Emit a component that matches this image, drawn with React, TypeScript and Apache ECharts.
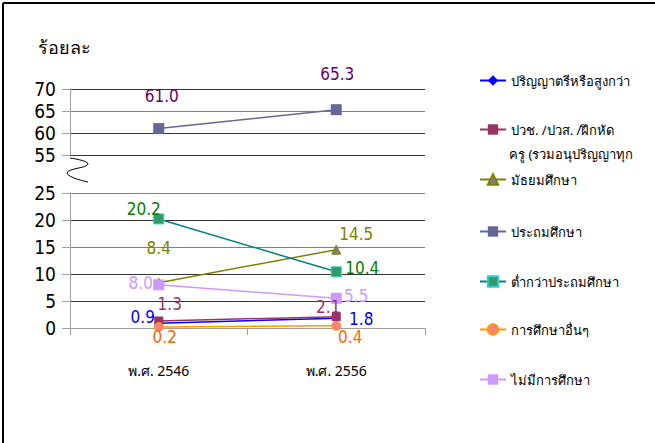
import React, { useEffect, useRef } from "react";
import * as echarts from "echarts";

const categories = ["พ.ศ. 2546", "พ.ศ. 2556"];
const bachelor = [0.9, 1.8];
const vocational = [1.3, 2.1];
const secondary = [8.4, 14.5];
const primary = [61.0, 65.3];
const belowPrimary = [20.2, 10.4];
const otherEdu = [0.2, 0.4];
const noEdu = [8.0, 5.5];
const topTicks = [55, 70];
const bottomTicks = [0, 25];

const NUM_FONT = "'Liberation Sans Narrow', 'DejaVu Sans Condensed', 'Liberation Sans', sans-serif";
const THAI_FONT = "Tahoma, 'Noto Sans', 'DejaVu Sans', sans-serif";

export default function App() {
  const ref = useRef<HTMLDivElement>(null);
  useEffect(() => {
    if (!ref.current) return;
    const chart = echarts.init(ref.current, null, { renderer: "svg" });

    const mkData = (vals: number[], offs: number[][], color: string) =>
      vals.map((v, i) => ({
        value: v,
        label: {
          show: true,
          position: "inside",
          offset: offs[i],
          color,
          fontSize: 17,
          fontFamily: NUM_FONT,
          formatter: (p: any) => Number(p.value).toFixed(1),
        },
      }));

    const mkSeries = (
      name: string,
      vals: number[],
      idx: number,
      lineColor: string,
      symbol: string,
      symbolColor: string,
      labelColor: string,
      offs: number[][],
      symbolSize = 10,
      borderColor?: string
    ) => ({
      type: "line",
      name,
      xAxisIndex: idx,
      yAxisIndex: idx,
      data: mkData(vals, offs, labelColor),
      symbol,
      symbolSize,
      lineStyle: { color: lineColor, width: 1.5 },
      itemStyle: {
        color: symbolColor,
        borderColor: borderColor || symbolColor,
        borderWidth: borderColor ? 1 : 0,
      },
      z: 5,
    });

    const names = [
      "ปริญญาตรีหรือสูงกว่า",
      "ปวช. /ปวส. /ฝึกหัดครู (รวมอนุปริญญาทุกสาขา)",
      "มัธยมศึกษา",
      "ประถมศึกษา",
      "ต่ำกว่าประถมศึกษา",
      "การศึกษาอื่นๆ",
      "ไม่มีการศึกษา",
    ];
    const legendY = [81, 130, 180, 232, 282, 330, 380];

    const legends = names.map((n, i) => ({
      data: [n],
      left: 479,
      top: legendY[i] - 7,
      padding: 0,
      itemWidth: 26,
      itemHeight: 13,
      itemGap: 0,
      formatter: i === 1 ? "ปวช. /ปวส. /ฝึกหัด" : "{name}",
      textStyle: { fontSize: 13, color: "#000", fontFamily: THAI_FONT, padding: [0, 0, 0, 0] },
      selectedMode: false,
    }));

    const axisGrey = "#a0a0a0";

    chart.setOption({
      animation: false,
      backgroundColor: "#fff",
      legend: legends,
      grid: [
        { left: 70, top: 89, width: 355, height: 66 },
        { left: 70, top: 193, width: 355, height: 135 },
      ],
      xAxis: [
        {
          type: "category",
          gridIndex: 0,
          data: categories,
          axisLine: { show: false },
          axisTick: { show: false },
          axisLabel: { show: false },
        },
        {
          type: "category",
          gridIndex: 1,
          data: categories,
          axisLine: { show: true, lineStyle: { color: axisGrey, width: 1 } },
          axisTick: { show: true, length: 7, lineStyle: { color: axisGrey } },
          axisLabel: { color: "#000", fontSize: 14, fontFamily: THAI_FONT, margin: 35 },
        },
      ],
      yAxis: [
        {
          type: "value",
          gridIndex: 0,
          min: topTicks[0],
          max: topTicks[1],
          interval: 5,
          axisLine: { show: true, lineStyle: { color: axisGrey } },
          axisTick: { show: true, length: 8, lineStyle: { color: axisGrey } },
          axisLabel: { color: "#000", fontSize: 19, fontFamily: NUM_FONT, margin: 14 },
          splitLine: { show: true, lineStyle: { color: ["#333", "#333", "#808080", "#333"], width: 1.2 } },
        },
        {
          type: "value",
          gridIndex: 1,
          min: bottomTicks[0],
          max: bottomTicks[1],
          interval: 5,
          axisLine: { show: true, lineStyle: { color: axisGrey } },
          axisTick: { show: true, length: 8, lineStyle: { color: axisGrey } },
          axisLabel: { color: "#000", fontSize: 19, fontFamily: NUM_FONT, margin: 14 },
          splitLine: {
            show: true,
            lineStyle: { color: [axisGrey, "#333", "#333", "#808080", "#333", "#808080"], width: 1.2 },
          },
        },
      ],
      series: [
        mkSeries(names[0], bachelor, 1, "#0000FF", "diamond", "#0000FF", "#0000FF", [[-16, -6], [25, 1]], 9),
        mkSeries(names[1], vocational, 1, "#993366", "rect", "#993366", "#993366", [[11, -17], [-8, -10]], 9),
        mkSeries(names[2], secondary, 1, "#808000", "triangle", "#808080", "#808000", [[0, -35], [20, -16]], 9, "#808000"),
        mkSeries(names[3], primary, 0, "#666699", "rect", "#666699", "#660066", [[3, -33], [1, -36]], 11),
        mkSeries(names[4], belowPrimary, 1, "#008080", "rect", "#339966", "#008000", [[-15, -10], [26, -4]], 10, "#33CCCC"),
        mkSeries(names[5], otherEdu, 1, "#FF9900", "circle", "#FF8080", "#FF6600", [[6, 10], [14, 11]], 9, "#FF9900"),
        mkSeries(names[6], noEdu, 1, "#CC99FF", "rect", "#CC99FF", "#CC99FF", [[-18, -2], [20, -2]], 11),
      ],
      graphic: [
        {
          type: "line",
          shape: { x1: 3, y1: 3, x2: 655, y2: 3 },
          style: { stroke: "#000", lineWidth: 2 },
        },
        {
          type: "line",
          shape: { x1: 3, y1: 3, x2: 3, y2: 443 },
          style: { stroke: "#000", lineWidth: 2 },
        },
        {
          type: "text",
          left: 38,
          top: 38,
          style: { text: "ร้อยละ", fontSize: 18, fill: "#000", fontFamily: THAI_FONT },
        },
        {
          type: "text",
          left: 509,
          top: 147,
          style: { text: "ครู (รวมอนุปริญญาทุก", fontSize: 13, fill: "#000", fontFamily: THAI_FONT },
        },
        {
          type: "polyline",
          shape: {
            points: [
              [70, 158],
              [88, 164],
              [67, 173],
              [88, 182],
            ],
            smooth: 0.5,
          },
          style: { stroke: "#000", lineWidth: 1, fill: "none" },
        },
      ],
    });
    return () => chart.dispose();
  }, []);
  return (
    <div
      ref={ref}
      style={{ position: "fixed", left: 0, top: 0, width: 655, height: 443 }}
    />
  );
}
